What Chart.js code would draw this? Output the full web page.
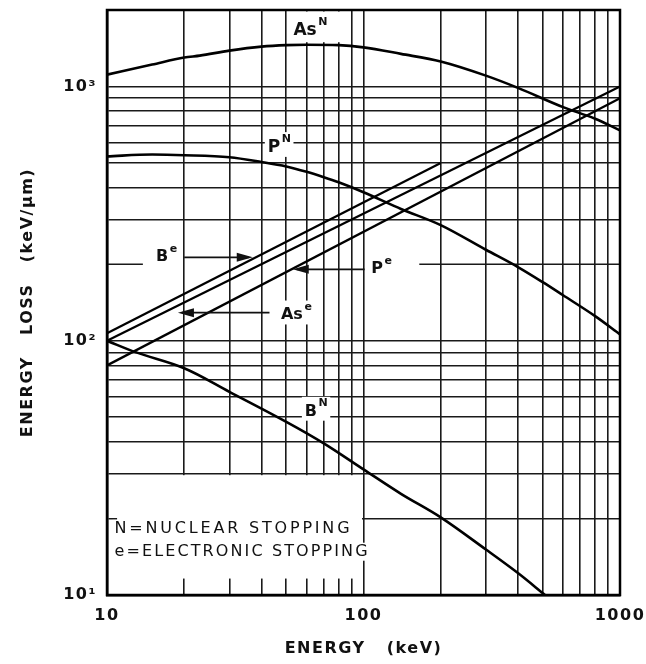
<!DOCTYPE html>
<html><head><meta charset="utf-8">
<script src="https://cdn.jsdelivr.net/npm/chart.js@4.4.0/dist/chart.umd.min.js"></script>
<style>html,body{margin:0;padding:0;background:#fff;}canvas{display:block;}</style>
</head><body>
<canvas id="c" width="646" height="664"></canvas>
<script>
// ---------- data ----------
const asN_x = [10, 15, 20, 23, 30, 40, 50, 60, 80, 100, 140, 200, 300, 400, 600, 800, 1000];
const asN_y = [1114, 1220, 1300, 1323, 1384, 1435, 1455, 1460, 1455, 1426, 1344, 1255, 1104, 988, 830, 747, 672];

const pN_x = [10, 15, 20, 30, 40, 50, 60, 70, 80, 100, 140, 200, 300, 400, 500, 600, 800, 1000];
const pN_y = [531, 540, 537, 527, 505, 485, 462, 440, 420, 384, 330, 285, 228, 195, 170, 151, 125, 106];

const bN_x = [10, 13, 20, 30, 50, 70, 100, 140, 200, 300, 400, 510];
const bN_y = [100, 90, 78, 63, 48, 39.5, 31.2, 25, 20.2, 15.1, 12.2, 10];

const bE_x = [10, 200];
const bE_y = [107, 500];
const asE_x = [10, 1000];
const asE_y = [100, 1000];
const pE_x = [10, 1000];
const pE_y = [80, 900];

const xGridValues = [10,20,30,40,50,60,70,80,90,100,200,300,400,500,600,700,800,900,1000];
const yGridValues = [10,20,30,40,50,60,70,80,90,100,200,300,400,500,600,700,800,900,1000,2000];
const xTickValues = [10, 100, 1000];
const xTickLabels = ['10', '100', '1000'];
const yTickValues = [10, 100, 1000];
const yTickLabels = ['10¹', '10²', '10³'];

// ---------- annotations (layout, in data coordinates) ----------
const FONT = 'DejaVu Sans';
const GRID = '#1a1a1a';
const curveLabels = [
  {text:'As', sup:'N', x:59.2, y:1658, size:17, supSize:11},
  {text:'P',  sup:'N', x:44.8, y:577,  size:17, supSize:11},
  {text:'B',  sup:'e', x:16.4, y:213,  size:16, supSize:11},
  {text:'P',  sup:'e', x:113,  y:191,  size:16, supSize:11},
  {text:'As', sup:'e', x:52.6, y:126,  size:16, supSize:11},
  {text:'B',  sup:'N', x:62.4, y:52.7, size:16, supSize:11}
];
const arrows = [
  {x0:20,  x1:37,   y:213},
  {x0:101, x1:53,   y:191},
  {x0:43,  x1:18.9, y:129}
];
const partialGrid = [ {x0:10, x1:13.8, y:200}, {x0:165, x1:1000, y:200} ];
const masks = [
  {x0:51.7, x1:84.7, y0:1474, y1:2000},
  {x0:10.8, x1:100,  y0:11.45, y1:30}
];
const legendLines = [
  {text:'N=NUCLEAR STOPPING',    x:10.7, y:18.2, width:235},
  {text:'e=ELECTRONIC STOPPING', x:10.7, y:14.8, width:253}
];

const pts = (xs, ys) => xs.map((x, i) => ({x, y: ys[i]}));

function labelGeom(ctx, L, sx, sy) {
  const px = sx.getPixelForValue(L.x), py = sy.getPixelForValue(L.y);
  ctx.letterSpacing = '0px';
  ctx.font = `bold ${L.size}px "${FONT}"`;
  const w = ctx.measureText(L.text).width;
  ctx.font = `bold ${L.supSize}px "${FONT}"`;
  const ws = ctx.measureText(L.sup).width;
  return {px, py, w, ws};
}

function fitText(ctx, T, sx, sy, draw) {
  const font = `16px "${FONT}"`;
  ctx.font = font;
  ctx.letterSpacing = '0px';
  const w0 = ctx.measureText(T.text).width;
  const sp = (T.width - w0) / (T.text.length - 1);
  const px = sx.getPixelForValue(T.x), py = sy.getPixelForValue(T.y);
  if (draw) {
    ctx.letterSpacing = sp + 'px';
    ctx.textAlign = 'left';
    ctx.textBaseline = 'middle';
    ctx.fillText(T.text, px, py);
  }
  return {x0: px - 2, x1: px + T.width + 2, y0: py - 9, y1: py + 9};
}

const decor = {
  id: 'decor',
  beforeDraw(chart) {
    const c = chart.ctx;
    c.save(); c.fillStyle = '#fff'; c.fillRect(0, 0, chart.width, chart.height); c.restore();
    c.letterSpacing = '1.5px';
  },
  beforeDatasetsDraw(chart) {
    const {ctx, chartArea: a, scales: {x: sx, y: sy}} = chart;
    ctx.save();
    ctx.fillStyle = '#fff';
    const ins = 1.5;
    for (const m of masks) {
      const X0 = sx.getPixelForValue(m.x0) + ins, X1 = sx.getPixelForValue(m.x1) - ins;
      const Y0 = sy.getPixelForValue(m.y1) + ins, Y1 = sy.getPixelForValue(m.y0) - ins;
      ctx.fillRect(X0, Y0, X1 - X0, Y1 - Y0);
    }
    for (const L of curveLabels) {
      const g = labelGeom(ctx, L, sx, sy);
      const x0 = g.px - g.w / 2 - 3, x1 = g.px + g.w / 2 + 1 + g.ws + 3;
      const y0 = g.py - L.size * 0.45 - L.supSize / 2 - 2, y1 = g.py + L.size * 0.45 + 2;
      ctx.fillRect(x0, y0, x1 - x0, y1 - y0);
    }
    for (const T of legendLines) {
      const b = fitText(ctx, T, sx, sy, false);
      ctx.fillRect(b.x0, b.y0, b.x1 - b.x0, b.y1 - b.y0);
    }
    ctx.strokeStyle = GRID; ctx.lineWidth = 1.6;
    for (const s of partialGrid) {
      const yy = sy.getPixelForValue(s.y);
      ctx.beginPath(); ctx.moveTo(sx.getPixelForValue(s.x0), yy); ctx.lineTo(sx.getPixelForValue(s.x1), yy); ctx.stroke();
    }
    ctx.strokeStyle = '#000'; ctx.lineWidth = 2.5;
    ctx.strokeRect(a.left, a.top, a.right - a.left, a.bottom - a.top);
    ctx.restore();
  },
  afterDatasetsDraw(chart) {
    const {ctx, scales: {x: sx, y: sy}} = chart;
    ctx.save();
    ctx.fillStyle = '#111'; ctx.strokeStyle = '#111';
    ctx.lineWidth = 1.8;
    for (const A of arrows) {
      const X0 = sx.getPixelForValue(A.x0), X1 = sx.getPixelForValue(A.x1), Y = sy.getPixelForValue(A.y);
      const dir = Math.sign(X1 - X0);
      ctx.beginPath(); ctx.moveTo(X0, Y); ctx.lineTo(X1 - dir * 4, Y); ctx.stroke();
      ctx.beginPath(); ctx.moveTo(X1, Y); ctx.lineTo(X1 - dir * 16, Y - 4.5); ctx.lineTo(X1 - dir * 16, Y + 4.5); ctx.closePath(); ctx.fill();
    }
    for (const L of curveLabels) {
      const g = labelGeom(ctx, L, sx, sy);
      ctx.letterSpacing = '0px';
      ctx.textBaseline = 'middle';
      ctx.textAlign = 'center';
      ctx.font = `bold ${L.size}px "${FONT}"`;
      ctx.fillText(L.text, g.px, g.py);
      ctx.textAlign = 'left';
      ctx.font = `bold ${L.supSize}px "${FONT}"`;
      ctx.fillText(L.sup, g.px + g.w / 2 + 1.5, g.py - L.size * 0.5);
    }
    for (const T of legendLines) fitText(ctx, T, sx, sy, true);
    ctx.restore();
  }
};

const lineStyle = {borderColor: '#000', pointRadius: 0, fill: false};
new Chart(document.getElementById('c'), {
  type: 'line',
  data: {
    datasets: [
      {label: 'As N', data: pts(asN_x, asN_y), borderWidth: 2.6, cubicInterpolationMode: 'monotone', ...lineStyle},
      {label: 'P N',  data: pts(pN_x, pN_y),   borderWidth: 2.6, cubicInterpolationMode: 'monotone', ...lineStyle},
      {label: 'B N',  data: pts(bN_x, bN_y),   borderWidth: 2.6, tension: 0.35, ...lineStyle},
      {label: 'B e',  data: pts(bE_x, bE_y),   borderWidth: 2.3, tension: 0, ...lineStyle},
      {label: 'As e', data: pts(asE_x, asE_y), borderWidth: 2.3, tension: 0, ...lineStyle},
      {label: 'P e',  data: pts(pE_x, pE_y),   borderWidth: 2.3, tension: 0, ...lineStyle}
    ]
  },
  options: {
    responsive: false,
    animation: false,
    devicePixelRatio: 1,
    layout: {padding: {left: 0, right: 26, top: 10, bottom: 0}},
    plugins: {legend: {display: false}, tooltip: {enabled: false}},
    scales: {
      x: {
        type: 'logarithmic', min: 10, max: 1000,
        afterBuildTicks: s => { s.ticks = xGridValues.map(v => ({value: v})); },
        afterFit: s => { s.height = 69; s.paddingLeft = 0; s.paddingRight = 0; s.paddingTop = 0; s.paddingBottom = 0; },
        ticks: {
          autoSkip: false, maxRotation: 0, padding: 11, color: '#111',
          font: {family: FONT, size: 16, weight: 'bold'},
          callback: v => { const i = xTickValues.indexOf(v); return i >= 0 ? xTickLabels[i] : ''; }
        },
        grid: {color: GRID, lineWidth: 1.6, drawTicks: false},
        border: {color: '#000', width: 2.5},
        title: {display: true, text: 'ENERGY   (keV)', color: '#111',
          font: {family: FONT, size: 16, weight: 'bold'}, padding: {top: 4, bottom: 6}}
      },
      y: {
        type: 'logarithmic', min: 10, max: 2000,
        afterBuildTicks: s => { s.ticks = yGridValues.map(v => ({value: v})); },
        afterFit: s => { s.width = 107; s.paddingLeft = 0; s.paddingRight = 0; s.paddingTop = 0; s.paddingBottom = 0; },
        ticks: {
          autoSkip: false, padding: 10, color: '#111',
          font: {family: FONT, size: 16, weight: 'bold'},
          callback: v => { const i = yTickValues.indexOf(v); return i >= 0 ? yTickLabels[i] : ''; }
        },
        grid: {color: c => (c.tick && c.tick.value === 200) ? 'rgba(0,0,0,0)' : GRID, lineWidth: 1.6, drawTicks: false},
        border: {color: '#000', width: 2.5},
        title: {display: true, text: 'ENERGY   LOSS   (keV/μm)', color: '#111',
          font: {family: FONT, size: 16, weight: 'bold'}, padding: {top: 18, bottom: 4}}
      }
    }
  },
  plugins: [decor]
});
</script>
</body></html>
